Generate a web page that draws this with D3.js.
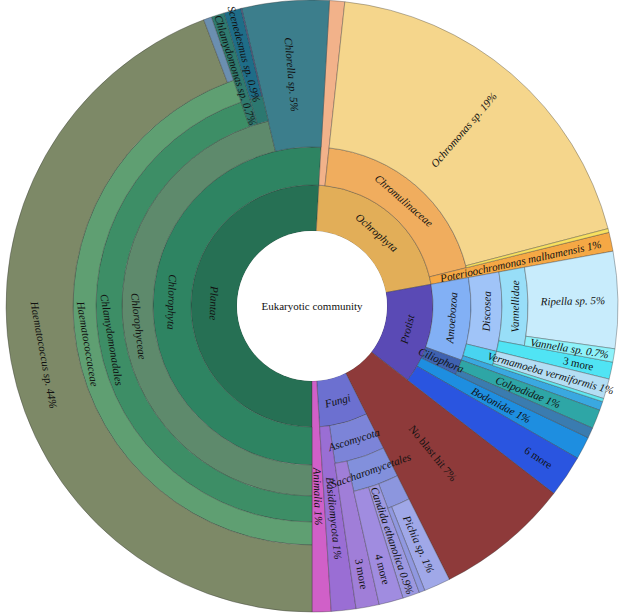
<!DOCTYPE html>
<html><head><meta charset="utf-8">
<script src="https://cdn.jsdelivr.net/npm/d3@7/dist/d3.min.js"></script>
<style>body{margin:0;background:#fff}</style>
</head><body><svg id="c" width="625" height="616"></svg>
<script>
// ---- data ----
const rootLabel = "Eukaryotic community";
const ids = ["root",
  "P","P1","P2","P3","P4","P5","P6","P8","P7","P9","P10","P11",
  "O","O1","O2","O3","O4","O5",
  "R","R1","R2","R3","R4","R5","R6","R7","R8","R9","R10","R11","R12","R13","R14","R15",
  "N",
  "F","F1","F2","F3","F4","F5","F6","F7","F8","F9",
  "A"];
const parents = ["",
  "root","P","P1","P2","P3","P4","P4","P2","P2","P7","P7","P1",
  "root","O","O","O2","O2","O",
  "root","R","R1","R2","R3","R3","R2","R1","R7","R7","R1","R","R11","R11","R","R",
  "root",
  "root","F","F1","F2","F3","F3","F2","F2","F1","F",
  "root"];
const names = [rootLabel,
  "Plantae","Chlorophyta","Chlorophyceae","Chlamydomonadales","Haematococcaceae","Haematococcus sp.","","Chlamydomonas sp.","","Scenedesmus sp.","","Chlorella sp.",
  "Ochrophyta","","Chromulinaceae","Ochromonas sp.","","Poterioochromonas malhamensis",
  "Protist","Amoebozoa","Discosea","Vannellidae","Ripella sp.","Vannella sp.","3 more","","Vermamoeba vermiformis","","","Ciliophora","Colpodidae","","Bodonidae","6 more",
  "No blast hit",
  "Fungi","Ascomycota","Saccharomycetales","","Pichia sp.","","Candida ethanolica","4 more","3 more","Basidiomycota",
  "Animalia"];
// leaf abundances (% of reads); internal nodes are 0 and get the sum of their children
const values = [0,
  0,0,0,0,0,44.2,0.42,0.7,0,0.9,0.04,4.6,
  0,0.8,0,19.2,0.2,1.0,
  0,0,0,0,5.1,0.7,0.9,0,1.05,0.17,0.47,0,1.0,0.55,1.2,2.2,
  7.1,
  0,0,0,0,1.4,0.3,0.9,1.28,1.22,1.3,
  1.0];
// ---- styles ----
const colors = ["#ffffff",
  "#267054","#2e8462","#5e8a6c","#3d8e66","#5f9f72","#7d8967","#6b8fb0","#2f7a6e","#2c7870","#1f6d88","#5560b0","#3c7e8c",
  "#e2ae58","#f2b28a","#f0ad5e","#f5d68c","#f8e060","#f5a845",
  "#5a4ab5","#82b0f5","#a0c4f8","#98def8","#c8ecfc","#8ef2fa","#50e4f4","#48d4f0","#b4def4","#60e8f0","#3aa8e0","#3f62b0","#2ea6a6","#3a7cb0","#1e8ee0","#2a55e0",
  "#8e3a3a",
  "#6c70d0","#7c84d8","#8290dc","#8c96de","#a0a8e8","#9098e0","#9c98e0","#a08ce0","#a07ed8","#9a6ed4",
  "#d060c8"];

const cx = 312, cy = 306;
const ringR = [0, 75, 121, 159, 190, 216, 239];
const outerR = 306, moreR = 272.5;
const fontSize = 11;

const rows = ids.map((id, i) => ({id, parent: parents[i] || null, name: names[i], value: values[i], color: colors[i]}));
const root = d3.stratify().id(d => d.id).parentId(d => d.parent)(rows);
root.sum(d => d.value);
d3.partition().size([1, 1])(root);

const ang = d3.scaleLinear().domain([0, 1]).range([Math.PI, 3 * Math.PI]);
const inner = d => ringR[d.depth];
const outer = d => d.children ? ringR[d.depth + 1] : outerR;

const svg = d3.select("#c");
const g = svg.append("g").attr("transform", `translate(${cx},${cy})`);

const arc = d3.arc()
  .startAngle(d => ang(d.x0)).endAngle(d => ang(d.x1))
  .innerRadius(inner).outerRadius(outer);

const nodes = root.descendants().filter(d => d.depth > 0);
g.selectAll("path").data(nodes).join("path")
  .attr("d", arc)
  .attr("fill", d => d.data.color)
  .attr("stroke", "#333")
  .attr("stroke-opacity", 0.7)
  .attr("stroke-width", 0.5);

g.append("circle").attr("r", ringR[1]).attr("fill", "#fff");

const total = root.value;
function pctText(v) {
  const p = v / total * 100;
  return p < 1 ? p.toFixed(1) + "%" : Math.round(p) + "%";
}
const deg = r => r * 180 / Math.PI;

const labels = nodes.filter(d => d.data.name !== "");
g.selectAll("text.lbl").data(labels).join("text")
  .attr("class", "lbl")
  .attr("font-family", "'Liberation Serif','Times New Roman',serif")
  .attr("font-size", fontSize)
  .attr("font-style", d => (/more$/.test(d.data.name) || d.data.name === "No blast hit") ? "normal" : "italic")
  .attr("fill", "#111")
  .attr("text-anchor", "middle")
  .attr("dy", "0.35em")
  .attr("transform", d => {
    const isMore = /more$/.test(d.data.name);
    let a = (deg(ang(d.x0)) + deg(ang(d.x1))) / 2;
    a = ((a % 360) + 360) % 360;
    const span = deg(ang(d.x1) - ang(d.x0));
    const r0 = inner(d), r1 = outer(d);
    const r = isMore ? moreR : (r0 + r1) / 2;
    let tangential;
    if (!d.children) tangential = span > 120;
    else tangential = (ang(d.x1) - ang(d.x0)) * r > 20;
    let rot;
    if (tangential) rot = (a > 90 && a < 275) ? a - 180 : a;
    else rot = a < 180 ? a - 90 : a - 270;
    const rad = a * Math.PI / 180;
    const x = r * Math.sin(rad), y = -r * Math.cos(rad);
    return `translate(${x},${y}) rotate(${rot})`;
  })
  .text(d => (!d.children && !/more$/.test(d.data.name)) ? d.data.name + " " + pctText(d.value) : d.data.name);

g.append("text")
  .attr("font-family", "'Liberation Serif','Times New Roman',serif")
  .attr("font-size", 11)
  .attr("fill", "#111")
  .attr("text-anchor", "middle")
  .attr("dy", "0.35em")
  .text(rootLabel);
</script></body></html>
